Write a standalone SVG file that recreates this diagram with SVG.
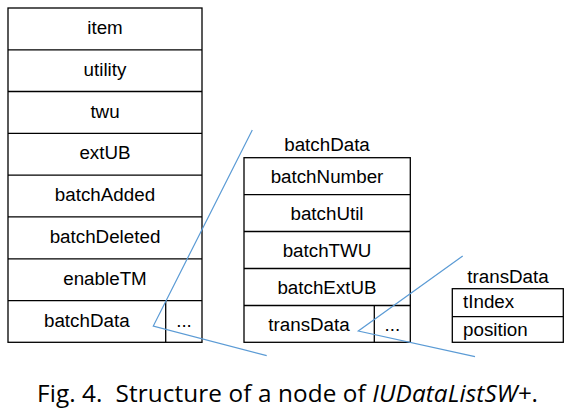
<svg xmlns="http://www.w3.org/2000/svg" width="572" height="414" viewBox="0 0 572 414">
<style>
.box{fill:#fff;stroke:#000;stroke-width:1.3}
.ln{stroke:#000;stroke-width:1.3}
.t{font-family:"Liberation Sans",Arial,sans-serif;font-size:18.8px;fill:#000;text-anchor:middle}
.tl{text-anchor:start}
.con{stroke:#5B9BD5;stroke-width:1.2;fill:none}
.cap{font-family:"Open Sans","Liberation Sans",sans-serif;font-size:24.3px;fill:#000}
</style>
<rect width="572" height="414" fill="#fff"/>
<g id="node-main">
<rect class="box" x="8" y="8" width="194" height="334.3"/>
<line class="ln" x1="8" y1="49.8" x2="202" y2="49.8"/>
<line class="ln" x1="8" y1="91.5" x2="202" y2="91.5"/>
<line class="ln" x1="8" y1="133.3" x2="202" y2="133.3"/>
<line class="ln" x1="8" y1="175.1" x2="202" y2="175.1"/>
<line class="ln" x1="8" y1="216.9" x2="202" y2="216.9"/>
<line class="ln" x1="8" y1="258.8" x2="202" y2="258.8"/>
<line class="ln" x1="8" y1="300.7" x2="202" y2="300.7"/>
<line class="ln" x1="165.7" y1="300.7" x2="165.7" y2="342.3"/>
<text class="t" x="105" y="34">item</text>
<text class="t" x="105" y="75.8">utility</text>
<text class="t" x="105" y="117.5">twu</text>
<text class="t" x="105" y="159.3">extUB</text>
<text class="t" x="105" y="201.1">batchAdded</text>
<text class="t" x="105" y="242.9">batchDeleted</text>
<text class="t" x="105" y="284.8">enableTM</text>
<text class="t" x="86.8" y="326.7">batchData</text>
<text class="t" x="184" y="326.7">...</text>
</g>
<g id="node-batchData">
<text class="t" x="327" y="151">batchData</text>
<rect class="box" x="244" y="157.7" width="166.3" height="184.6"/>
<line class="ln" x1="244" y1="194.6" x2="410.3" y2="194.6"/>
<line class="ln" x1="244" y1="231.5" x2="410.3" y2="231.5"/>
<line class="ln" x1="244" y1="268.5" x2="410.3" y2="268.5"/>
<line class="ln" x1="244" y1="305.5" x2="410.3" y2="305.5"/>
<line class="ln" x1="374.3" y1="305.5" x2="374.3" y2="342.3"/>
<text class="t" x="327" y="183.3">batchNumber</text>
<text class="t" x="327" y="220.2">batchUtil</text>
<text class="t" x="327" y="257.1">batchTWU</text>
<text class="t" x="327" y="294.1">batchExtUB</text>
<text class="t" x="309" y="331">transData</text>
<text class="t" x="392.3" y="331">...</text>
</g>
<g id="node-transData">
<text class="t" x="508" y="282.7">transData</text>
<rect class="box" x="452.3" y="288.7" width="111" height="53.6"/>
<line class="ln" x1="452.3" y1="316.7" x2="563.3" y2="316.7"/>
<text class="t tl" x="463" y="308.3">tIndex</text>
<text class="t tl" x="463" y="336">position</text>
</g>
<g id="connectors">
<polyline class="con" points="252.3,130 153.3,326 266.7,355.7"/>
<polyline class="con" points="462.7,256 358.3,331 475,356.7"/>
</g>
<text class="cap" x="37" y="401.5" xml:space="preserve" textLength="501" lengthAdjust="spacing">Fig. 4.  Structure of a node of <tspan font-style="italic">IUDataListSW+</tspan>.</text>
</svg>
